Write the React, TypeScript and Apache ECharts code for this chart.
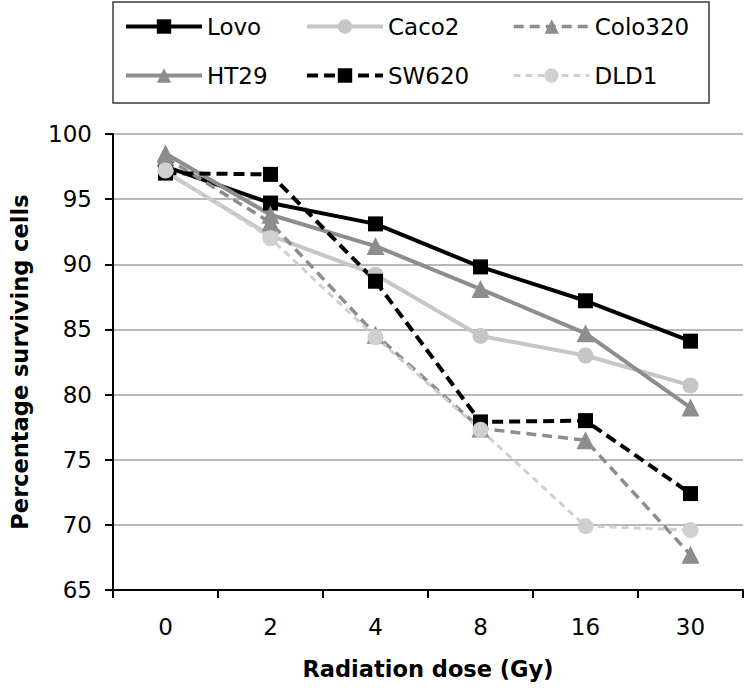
import React, { useEffect, useRef } from "react";
import * as echarts from "echarts";

const categories = ["0", "2", "4", "8", "16", "30"];
const seriesNames = ["Lovo", "Caco2", "Colo320", "HT29", "SW620", "DLD1"];
const lovo = [97.5, 94.7, 93.1, 89.8, 87.2, 84.1];
const caco2 = [97.1, 92.2, 89.2, 84.5, 83.0, 80.7];
const colo320 = [98.2, 93.2, 84.6, 77.4, 76.5, 67.7];
const ht29 = [98.5, 93.8, 91.4, 88.1, 84.7, 79.0];
const sw620 = [97.0, 96.9, 88.7, 77.9, 78.0, 72.4];
const dld1 = [97.2, 92.0, 84.4, 77.3, 69.9, 69.6];
const yTicks = { min: 65, max: 100, interval: 5 };

const FONT = "'DejaVu Sans', sans-serif";

export default function App() {
  const ref = useRef<HTMLDivElement>(null);
  useEffect(() => {
    if (!ref.current) return;
    const chart = echarts.init(ref.current, null, { renderer: "svg" });

    const styles: Record<string, any> = {
      Lovo: { color: "#000000", width: 4, type: "solid", symbol: "rect", size: 15 },
      Caco2: { color: "#c6c6c6", width: 4, type: "solid", symbol: "circle", size: 16 },
      Colo320: { color: "#8d8d8d", width: 3.5, type: [10, 6], symbol: "triangle", size: 18 },
      HT29: { color: "#8d8d8d", width: 4, type: "solid", symbol: "triangle", size: 18 },
      SW620: { color: "#000000", width: 4, type: [11, 6], symbol: "rect", size: 15 },
      DLD1: { color: "#d0d0d0", width: 3, type: [7, 5], symbol: "circle", size: 16 },
    };
    const dataMap: Record<string, number[]> = {
      Lovo: lovo,
      Caco2: caco2,
      Colo320: colo320,
      HT29: ht29,
      SW620: sw620,
      DLD1: dld1,
    };

    const legendPos = [
      { left: 124, top: 15 },
      { left: 305, top: 15 },
      { left: 512, top: 15 },
      { left: 124, top: 64 },
      { left: 305, top: 64 },
      { left: 512, top: 64 },
    ];

    const legends = seriesNames.map((n, i) => ({
      data: [n],
      left: legendPos[i].left,
      top: legendPos[i].top,
      padding: 0,
      itemWidth: 76,
      itemHeight: 18,
      itemGap: 0,
      lineStyle: { width: styles[n].width },
      textStyle: { fontSize: 23, fontFamily: FONT, color: "#000" },
      selectedMode: false,
    }));

    chart.setOption({
      animation: false,
      backgroundColor: "#ffffff",
      textStyle: { fontFamily: FONT },
      legend: legends,
      grid: { left: 113, top: 134, width: 630, height: 456, containLabel: false },
      graphic: [
        {
          type: "rect",
          shape: { x: 113, y: 2, width: 596, height: 101 },
          style: { fill: "none", stroke: "#3a3a3a", lineWidth: 1.5 },
          silent: true,
        },
      ],
      xAxis: {
        type: "category",
        data: categories,
        boundaryGap: true,
        name: "Radiation dose (Gy)",
        nameLocation: "middle",
        nameGap: 67,
        nameTextStyle: { fontSize: 22.5, fontWeight: "bold", fontFamily: FONT, color: "#000" },
        axisLine: { lineStyle: { color: "#000", width: 2 } },
        axisTick: { show: true, length: 8, lineStyle: { color: "#000", width: 2 }, alignWithLabel: false },
        axisLabel: { fontSize: 23, fontFamily: FONT, color: "#000", margin: 25 },
        splitLine: { show: false },
      },
      yAxis: {
        type: "value",
        min: yTicks.min,
        max: yTicks.max,
        interval: yTicks.interval,
        name: "Percentage surviving cells",
        nameLocation: "middle",
        nameGap: 82,
        nameTextStyle: { fontSize: 22.5, fontWeight: "bold", fontFamily: FONT, color: "#000" },
        axisLine: { show: true, lineStyle: { color: "#000", width: 2 } },
        axisTick: { show: true, length: 8, lineStyle: { color: "#000", width: 2 } },
        axisLabel: { fontSize: 23, fontFamily: FONT, color: "#000", margin: 21 },
        splitLine: { show: true, lineStyle: { color: "#a0a0a0", width: 1.5 } },
      },
      series: seriesNames.map((n) => {
        const s = styles[n];
        return {
          name: n,
          type: "line",
          data: dataMap[n],
          symbol: s.symbol,
          symbolSize: s.size,
          showSymbol: true,
          lineStyle: { color: s.color, width: s.width, type: s.type },
          itemStyle: { color: s.color, borderWidth: 0 },
          emphasis: { disabled: true },
        };
      }),
    });
    return () => chart.dispose();
  }, []);
  return (
    <div
      ref={ref}
      style={{ position: "fixed", left: 0, top: 0, width: 750, height: 688, background: "#fff" }}
    />
  );
}
